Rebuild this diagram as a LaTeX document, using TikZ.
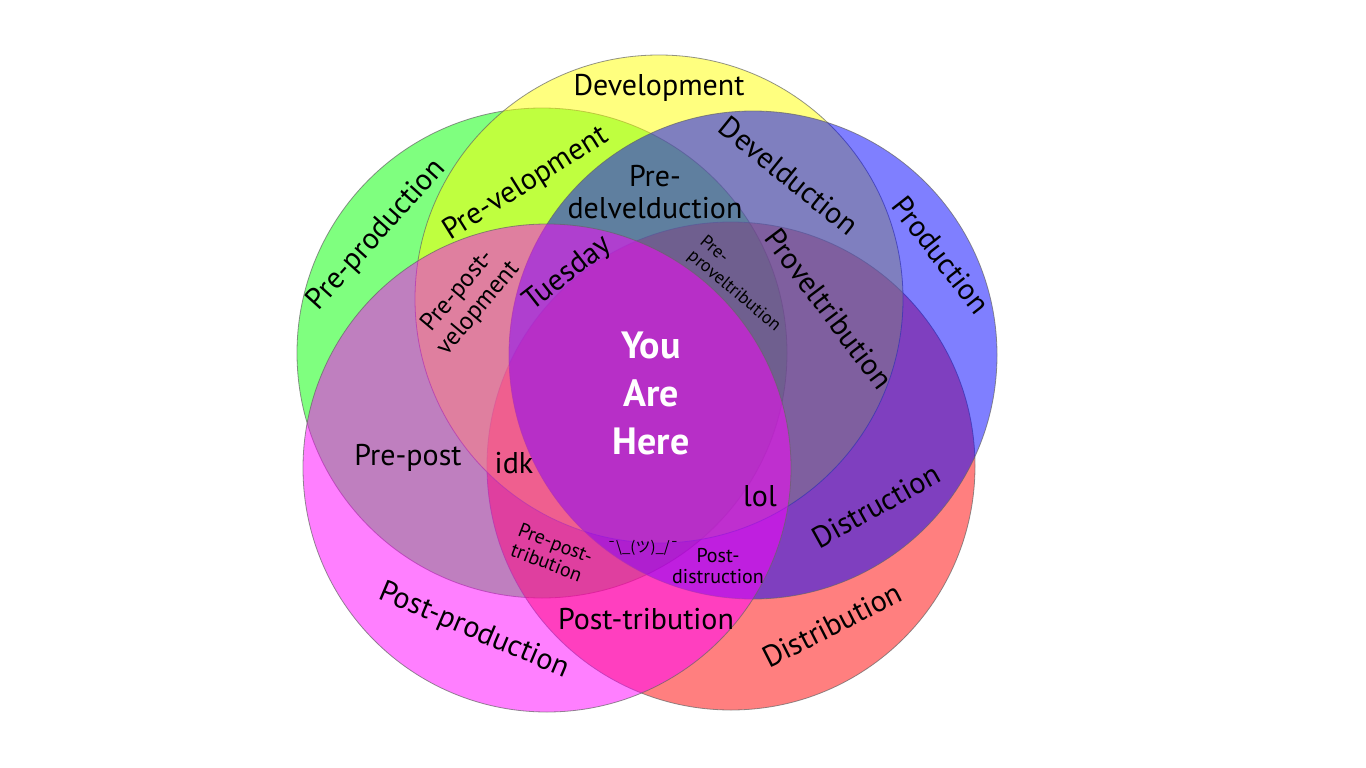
\documentclass[tikz,border=0pt]{standalone}
\usepackage{fontspec}
\setmainfont{PT Sans}
\newfontfamily\cjk{Noto Sans CJK JP}
\usepackage{tikz}

\definecolor{vgreen}{RGB}{0,255,0}
\definecolor{vred}{RGB}{255,0,0}
\definecolor{vyellow}{RGB}{255,255,0}
\definecolor{vblue}{RGB}{0,0,255}
\definecolor{vmagenta}{RGB}{255,0,255}

\tikzset{
  circ/.style={draw=black!60, draw opacity=0.7, line width=0.8pt, fill opacity=0.5},
  big/.style={font=\fontsize{30}{32}\selectfont, align=center},
  mid/.style={font=\fontsize{25}{27}\selectfont, align=center},
  small/.style={font=\fontsize{20}{21}\selectfont, align=center},
  tiny/.style={font=\fontsize{18}{19}\selectfont, align=left}
}

\begin{document}
\begin{tikzpicture}[x=1pt, y=-1pt, every node/.style={inner sep=0pt}]
    \useasboundingbox (0,0) rectangle (1366,768);
    \fill[white] (0,0) rectangle (1366,768);

    % the five circles, back to front
    \draw[circ, fill=vgreen] (542,353) circle[radius=245];
    \draw[circ, fill=vred] (731,466) circle[radius=244];
    \draw[circ, fill=vyellow] (659,299) circle[radius=244];
    \draw[circ, fill=vblue] (753,355) circle[radius=244];
    \draw[circ, fill=vmagenta] (547,468) circle[radius=244];

    % single sets
    \node (dev) [big] at (659,88) {Development};
    \node (preprod) [big, rotate=48] at (377,235) {Pre-production};
    \node (prod) [big, rotate=-52] at (941,255) {Production};
    \node (dist) [big, rotate=27] at (832,625) {Distribution};
    \node (postprod) [big, rotate=-23] at (474,631) {Post-production};

    % overlaps
    \node (prevel) [big, rotate=32] at (526,184) {Pre-velopment};
    \node (develd) [big, rotate=-39] at (789,176) {Develduction};
    \node (predel) [big] at (655,192) {Pre-\\delvelduction};
    \node (prepostvel) [mid, rotate=50] at (468,300) {Pre-post-\\velopment};
    \node (tues) [big, rotate=38] at (568,274) {Tuesday};
    \node (preprov) [tiny, rotate=-40] at (740,284) {Pre-\\proveltribution};
    \node (provel) [big, rotate=-53] at (829,309) {Proveltribution};
    \node (prepost) [big] at (408,458) {Pre-post};
    \node (idk) [big] at (514,463) {idk};
    \node (lol) [big] at (760,496) {lol};
    \node (distr) [big, rotate=29] at (876,506) {Distruction};
    \node (preposttr) [small, align=left, rotate=-21] at (552,553) {Pre-post-\\tribution};
    \node (shrug) [font=\cjk\fontsize{15}{16}\selectfont] at (643,548) {¯\textbackslash\_(ツ)\_/¯};
    \node (postdistr) [small] at (718,566) {Post-\\distruction};
    \node (posttr) [big] at (646,619) {Post-tribution};

    % centre
    \node (here) [font=\fontsize{38}{48}\selectfont\bfseries, text=white, align=center] at (651,393) {You\\Are\\Here};
\end{tikzpicture}
\end{document}
